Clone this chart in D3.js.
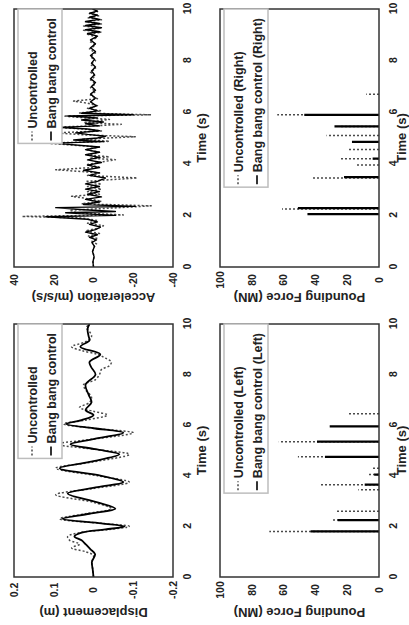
<!DOCTYPE html>
<html>
<head>
<meta charset="utf-8">
<script src="https://cdn.jsdelivr.net/npm/d3@7"></script>
<style>
  html, body { margin: 0; padding: 0; background: #fff; }
  svg { display: block; }
  text { font-family: "Liberation Sans", Arial, sans-serif; font-weight: bold; fill: #222; }
</style>
</head>
<body>
<svg id="chart" width="409" height="625"></svg>
<script>
// tick values
const timeTicks = [0, 2, 4, 6, 8, 10];
const dispTicks = [-0.2, -0.1, 0, 0.1, 0.2];
const accelTicks = [-40, -20, 0, 20, 40];
const forceTicks = [0, 20, 40, 60, 80, 100];

// displacement (m), [time, value]
const dispUncontrolled = [[0,0],[0.3,0.002],[0.6,0.004],[0.85,0],[1.0,0.02],[1.15,0.055],[1.3,0.035],[1.45,0.06],[1.6,0.065],[1.75,0.035],[1.88,-0.04],[2.0,-0.09],[2.12,-0.02],[2.3,0.085],[2.5,0.02],[2.7,-0.045],[2.95,0],[3.25,0.095],[3.5,0],[3.75,-0.09],[4.0,-0.01],[4.3,0.095],[4.55,0],[4.85,-0.09],[5.05,0],[5.25,0.09],[5.45,0],[5.7,-0.1],[5.88,0],[6.05,0.075],[6.2,0.02],[6.4,-0.035],[6.55,0],[6.7,0.035],[6.9,0.01],[7.1,0.005],[7.4,0.02],[7.6,0.025],[7.8,-0.005],[8.0,-0.015],[8.2,-0.02],[8.35,-0.04],[8.5,-0.045],[8.65,-0.03],[8.8,-0.01],[8.95,0.03],[9.1,0.055],[9.3,0.02],[9.5,0.005],[9.7,0.01],[9.85,0.018],[10,0.01]];
const dispBangBang = [[0,0],[0.3,0.002],[0.6,0.004],[0.9,-0.004],[1.1,0.008],[1.3,0.02],[1.45,0.03],[1.6,0.048],[1.75,0.03],[1.88,-0.03],[2.0,-0.078],[2.12,-0.02],[2.3,0.078],[2.5,0.01],[2.7,-0.055],[2.95,-0.01],[3.3,0.065],[3.55,-0.01],[3.75,-0.075],[4.0,-0.02],[4.3,0.085],[4.55,0.01],[4.85,-0.065],[5.05,-0.005],[5.25,0.058],[5.45,0],[5.7,-0.075],[5.88,0],[6.05,0.068],[6.2,0.03],[6.4,0],[6.6,0.02],[6.9,0.005],[7.2,0.012],[7.6,0.02],[8.0,-0.005],[8.3,0.006],[8.5,0.01],[8.8,-0.017],[9.1,0.033],[9.35,0.01],[9.5,0.012],[9.8,0.015],[10,0.01]];

// acceleration (m/s/s), [time, value]
const accelUncontrolled = [[0,0],[0.2,0.2],[0.4,-0.3],[0.6,0.4],[0.8,-0.5],[0.9,-1.5],[1.0,0.8],[1.1,-2],[1.2,2.5],[1.3,-3],[1.4,4],[1.5,-2],[1.6,-5],[1.7,3],[1.8,-2],[1.9,6],[1.96,36],[2.02,-15],[2.1,8],[2.2,12],[2.28,-8],[2.37,-29],[2.45,6],[2.55,-4],[2.65,3],[2.74,11],[2.82,-3],[2.92,3],[3.02,-4],[3.12,3],[3.22,-4],[3.32,4],[3.45,-22],[3.55,3],[3.65,-3],[3.77,19],[3.87,-3],[3.97,3],[4.07,-4],[4.16,-11],[4.22,2],[4.27,-8],[4.35,3],[4.45,-3],[4.55,4],[4.65,-3],[4.8,24],[4.87,-8],[4.95,6],[5.05,-21],[5.12,4],[5.2,20],[5.27,-4],[5.35,5],[5.42,20],[5.48,-3],[5.53,-14],[5.6,5],[5.72,-8],[5.79,6],[5.85,15],[5.9,-29],[5.97,7],[6.05,-4],[6.15,3],[6.25,-2],[6.35,3],[6.43,10],[6.52,-2],[6.65,1.5],[6.8,-1],[6.95,1.5],[7.1,-1],[7.25,1.5],[7.4,-1],[7.55,1.5],[7.7,-1],[7.85,1.5],[8.0,-1],[8.15,1.5],[8.3,-1],[8.45,2],[8.6,-1],[8.75,2],[8.9,-2],[9.02,3],[9.1,-4],[9.18,5],[9.26,-4],[9.34,5],[9.42,-4],[9.5,4],[9.58,-4],[9.66,3],[9.74,-3],[9.82,2],[9.9,-2],[10,0]];
const accelBangBang = [[0,0],[0.2,0.3],[0.4,-0.3],[0.6,0.5],[0.8,-0.5],[0.95,0.8],[1.05,-1.5],[1.15,2],[1.25,-2],[1.35,4],[1.45,-1],[1.55,-3.5],[1.65,2],[1.75,-2],[1.85,3],[1.95,24],[2.0,-11],[2.1,14],[2.15,-11],[2.22,5],[2.3,19],[2.35,-21],[2.42,5],[2.52,-3],[2.62,4],[2.72,-4],[2.82,3],[2.92,-3],[3.02,4],[3.12,-3],[3.22,4],[3.32,-2],[3.45,-6],[3.55,2],[3.65,-3],[3.75,5],[3.85,-3],[3.95,3],[4.05,-4],[4.15,3],[4.25,-3],[4.35,4],[4.45,-3],[4.55,4],[4.65,-3],[4.8,20],[4.86,-5],[4.92,10],[5.0,-2],[5.07,-6],[5.14,3],[5.2,9],[5.28,-3],[5.35,3],[5.41,18],[5.47,-3],[5.55,4],[5.62,-5],[5.7,6],[5.78,-2],[5.85,13],[5.9,-20],[5.96,6],[6.05,-2],[6.15,2],[6.25,-1.5],[6.4,1.5],[6.55,-1],[6.7,1.5],[6.85,-1],[7.0,1],[7.15,-1],[7.3,1.5],[7.45,-0.5],[7.6,1],[7.75,-1],[7.9,1],[8.05,-0.5],[8.2,1.5],[8.35,-1],[8.5,1.5],[8.65,-1],[8.8,1.5],[8.95,-2],[9.05,3],[9.12,-3],[9.2,4],[9.28,-4],[9.36,4],[9.44,-3],[9.52,4],[9.6,-3],[9.68,2],[9.76,-2],[9.84,2],[9.92,-2],[10,0.5]];

// pounding force (MN), [time, peak]
const leftUncontrolled = [[1.8,69],[2.25,30],[2.6,27],[3.45,13],[3.65,37],[4.05,7],[4.3,5],[4.75,51],[5.35,63],[6.45,19]];
const leftBangBang = [[1.8,43],[2.25,26],[3.65,9],[4.05,3],[4.75,34],[5.35,39],[5.95,31]];
const rightUncontrolled = [[2.25,61],[3.45,42],[3.95,14],[4.2,25],[4.55,20],[5.1,33],[5.45,24],[5.9,64],[6.7,8]];
const rightBangBang = [[2.05,45],[2.28,51],[3.48,22],[4.2,4],[4.85,17],[5.45,28],[5.9,47]];

// the figure is drawn upright (625 x 409) and turned a quarter left onto the page
const W = 625, H = 409;
const svg = d3.select("#chart");
const fig = svg.append("g").attr("transform", `translate(0,${W}) rotate(-90)`);
fig.append("rect").attr("width", W).attr("height", H).attr("fill", "#fff");

const cols = [{x0: 48, x1: 301, titleX: 12}, {x0: 358, x1: 616, titleX: 327}];
const rows = [{y0: 14, y1: 173, titleDy: 33}, {y0: 220, y1: 379, titleDy: 27}];

const panels = [
  {col: 0, row: 0, domain: [-0.2, 0.2], ticks: dispTicks, title: "Displacement (m)", type: "line", width: 1.8,
   a: dispUncontrolled, b: dispBangBang, legend: ["Uncontrolled", "Bang bang control"]},
  {col: 1, row: 0, domain: [-40, 40], ticks: accelTicks, title: "Acceleration (m/s/s)", type: "line", width: 1.4,
   a: accelUncontrolled, b: accelBangBang, legend: ["Uncontrolled", "Bang bang control"]},
  {col: 0, row: 1, domain: [0, 100], ticks: forceTicks, title: "Pounding Force (MN)", type: "stem", width: 2.2,
   a: leftUncontrolled, b: leftBangBang, legend: ["Uncontrolled (Left)", "Bang bang control (Left)"]},
  {col: 1, row: 1, domain: [0, 100], ticks: forceTicks, title: "Pounding Force (MN)", type: "stem", width: 2.2,
   a: rightUncontrolled, b: rightBangBang, legend: ["Uncontrolled (Right)", "Bang bang control (Right)"]}
];

const dotted = {stroke: "#4a4a4a", width: 1.5, dash: "2,2"};

panels.forEach((p, i) => {
  const c = cols[p.col], r = rows[p.row];
  const x = d3.scaleLinear().domain([0, 10]).range([c.x0, c.x1]);
  const y = d3.scaleLinear().domain(p.domain).range([r.y1, r.y0]);
  const solid = {stroke: "#000", width: p.width, dash: null};
  const g = fig.append("g");

  const clipId = "clip" + i;
  g.append("clipPath").attr("id", clipId).append("rect")
    .attr("x", c.x0).attr("y", r.y0).attr("width", c.x1 - c.x0).attr("height", r.y1 - r.y0);
  const plot = g.append("g").attr("clip-path", `url(#${clipId})`);

  if (p.type === "line") {
    const line = d3.line().x(d => x(d[0])).y(d => y(d[1]));
    if (p.col === 0) line.curve(d3.curveCatmullRom.alpha(0.5));
    [[p.a, dotted], [p.b, solid]].forEach(([data, st]) => {
      plot.append("path").datum(data).attr("d", line)
        .attr("fill", "none").attr("stroke", st.stroke).attr("stroke-width", st.width)
        .attr("stroke-dasharray", st.dash).attr("stroke-linejoin", "round");
    });
  } else {
    [[p.a, dotted], [p.b, solid]].forEach(([data, st]) => {
      plot.append("g").selectAll("line").data(data).join("line")
        .attr("x1", d => x(d[0])).attr("x2", d => x(d[0]))
        .attr("y1", y(0)).attr("y2", d => y(d[1]))
        .attr("stroke", st.stroke).attr("stroke-width", st.width)
        .attr("stroke-dasharray", st.dash);
    });
  }

  // plot frame
  g.append("rect")
    .attr("x", c.x0).attr("y", r.y0).attr("width", c.x1 - c.x0).attr("height", r.y1 - r.y0)
    .attr("fill", "none").attr("stroke", "#333").attr("stroke-width", 1.5);

  // time axis
  const xa = g.append("g").attr("transform", `translate(0,${r.y1})`)
    .call(d3.axisBottom(x).tickValues(timeTicks).tickSize(0).tickPadding(11).tickFormat(d => String(d)));
  xa.select(".domain").remove();
  xa.attr("font-family", null);
  xa.selectAll("text").attr("font-size", 10.5).attr("fill", "#222");

  // value axis
  const ya = g.append("g").attr("transform", `translate(${c.x0},0)`)
    .call(d3.axisLeft(y).tickValues(p.ticks).tickSize(0).tickFormat(d => String(d)));
  ya.select(".domain").remove();
  ya.attr("font-family", null);
  ya.selectAll("text").attr("font-size", 10.5).attr("text-anchor", "middle").attr("x", -13).attr("fill", "#222");

  // axis titles
  g.append("text").attr("x", (c.x0 + c.x1) / 2).attr("y", r.y1 + r.titleDy)
    .attr("text-anchor", "middle").attr("font-size", 13).text("Time (s)");
  g.append("text").attr("transform", `translate(${c.titleX},${(r.y0 + r.y1) / 2}) rotate(-90)`)
    .attr("text-anchor", "middle").attr("dy", "0.35em").attr("font-size", 13).text(p.title);

  // legend
  const lg = g.append("g");
  const box = lg.append("rect");
  const top = r.y0 + 4;
  const labels = lg.selectAll("text").data(p.legend).join("text")
    .attr("font-size", 12.5).attr("y", (d, k) => top + 18.5 + k * 19).text(d => d);
  let tw = 0;
  labels.each(function() { tw = Math.max(tw, this.getComputedTextLength()); });
  const bw = tw + 24, left = c.x1 - bw;
  labels.attr("x", left + 15);
  box.attr("x", left).attr("y", top).attr("width", bw).attr("height", 44)
    .attr("fill", "#fff").attr("stroke", "#bdbdbd").attr("stroke-width", 1.5);
  [dotted, {stroke: "#000", width: 1.6, dash: null}].forEach((st, k) => {
    lg.append("line").attr("x1", left + 3).attr("x2", left + 12)
      .attr("y1", top + 14 + k * 19).attr("y2", top + 14 + k * 19)
      .attr("stroke", st.stroke).attr("stroke-width", st.width).attr("stroke-dasharray", st.dash);
  });
});
</script>
</body>
</html>
